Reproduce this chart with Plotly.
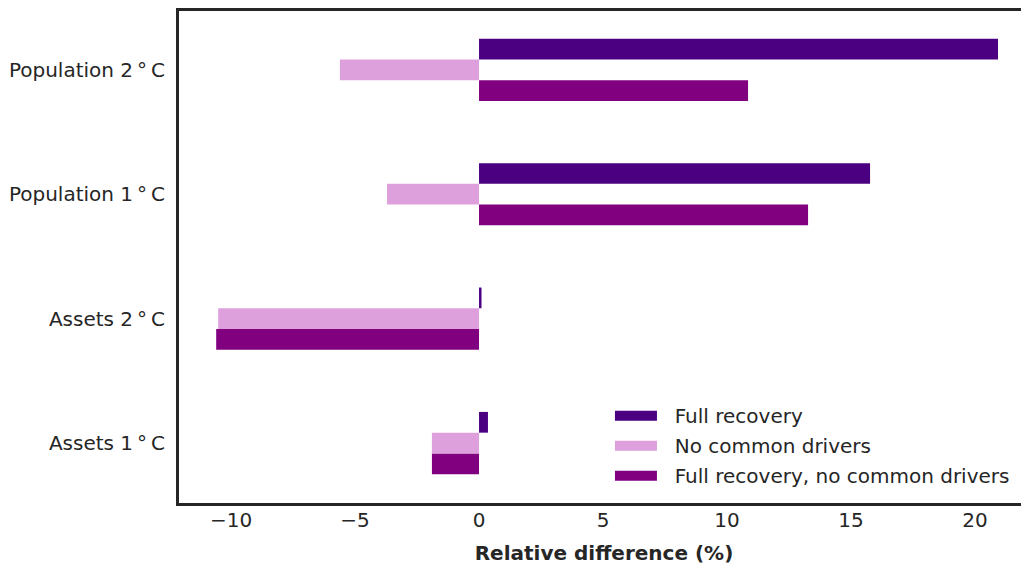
import plotly.graph_objects as go

categories = ["Assets 1\u2009°\u2009C", "Assets 2\u2009°\u2009C",
              "Population 1\u2009°\u2009C", "Population 2\u2009°\u2009C"]
full_recovery = [0.36, 0.1, 15.77, 20.93]
no_common_drivers = [-1.9, -10.52, -3.71, -5.61]
full_recovery_no_common = [-1.9, -10.6, 13.27, 10.85]

series = [
    ("Full recovery", full_recovery, "#4B0082"),
    ("No common drivers", no_common_drivers, "#DDA0DD"),
    ("Full recovery, no common drivers", full_recovery_no_common, "#800080"),
]

INK = "#262626"
FONT = "DejaVu Sans"

fig = go.Figure()
# bars listed in reverse so the first series sits on top of each group
for name, vals, color in reversed(series):
    fig.add_trace(go.Bar(
        x=vals, y=categories, orientation="h", name=name,
        marker=dict(color=color, line_width=0), showlegend=False,
    ))
# wide legend swatches
for name, vals, color in series:
    fig.add_trace(go.Scatter(
        x=[None], y=[None], mode="lines", name="\u00a0\u00a0" + name,
        legendgroup=name, line=dict(color=color, width=15),
    ))

# page body has an 8px margin, so the figure is sized to fit the window
fig.update_layout(
    barmode="group",
    bargap=0.5,
    bargroupgap=0,
    width=1021, height=557,
    margin=dict(l=171, r=0, t=3, b=62),
    plot_bgcolor="white",
    paper_bgcolor="white",
    font=dict(family=FONT, size=20, color=INK),
    legend=dict(
        x=0.507, y=0.016, xanchor="left", yanchor="bottom",
        bgcolor="rgba(0,0,0,0)", itemwidth=42, tracegroupgap=1,
        font=dict(size=20, color=INK),
    ),
    xaxis=dict(
        range=[-12.10, 22.18], tickvals=[-10, -5, 0, 5, 10, 15, 20],
        showgrid=False, zeroline=False, showline=True, mirror=True,
        linecolor=INK, linewidth=3, ticks="", ticklabelstandoff=-3,
        automargin=False,
        title=dict(text="<b>Relative difference (%)</b>", standoff=15,
                   font=dict(size=20, color=INK)),
    ),
    yaxis=dict(
        range=[-0.482, 3.473], showgrid=False, zeroline=False, showline=True,
        linecolor=INK, linewidth=3, ticks="", ticklabelstandoff=7,
        automargin=False,
    ),
)

fig.write_html("out.html")
